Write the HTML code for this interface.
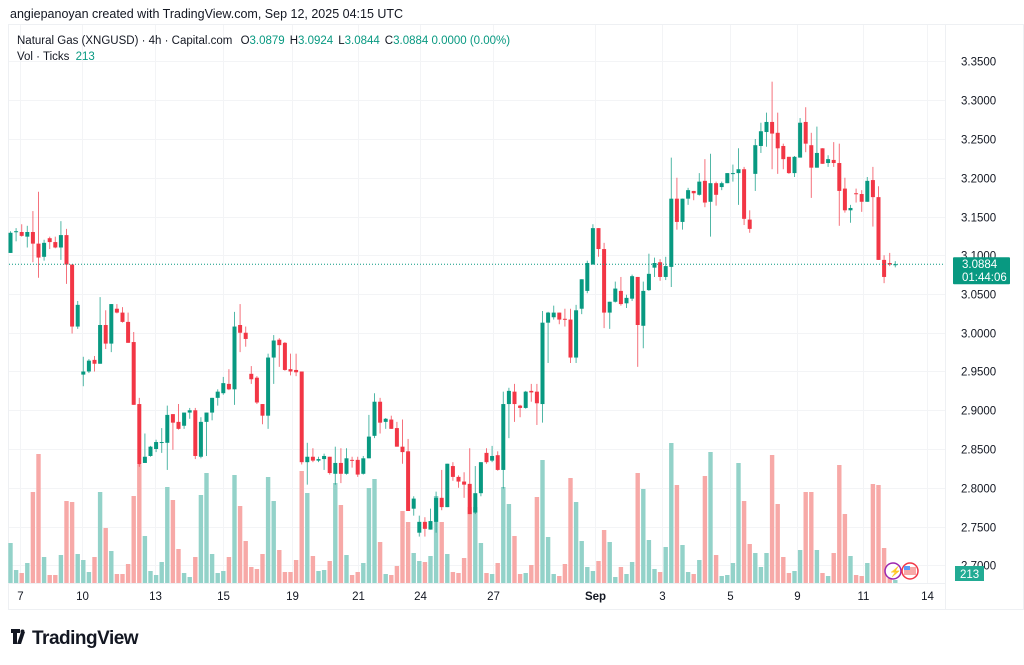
<!DOCTYPE html>
<html><head><meta charset="utf-8">
<style>
body{margin:0;background:#fff;font-family:"Liberation Sans",sans-serif;}
#wrap{position:relative;width:1024px;height:665px;overflow:hidden;background:#fff}
svg text{font-family:"Liberation Sans",sans-serif}
</style></head>
<body>
<div id="wrap">
<svg id="chart" width="1024" height="665" xmlns="http://www.w3.org/2000/svg">
<text x="10" y="18" font-size="12.5" fill="#131722">angiepanoyan created with TradingView.com, Sep 12, 2025 04:15 UTC</text>
<rect x="8.5" y="24.5" width="1015" height="585" fill="none" stroke="#eef0f3"/>
<line x1="945.5" y1="25" x2="945.5" y2="609" stroke="#eef0f3"/>
<line x1="9" y1="583.5" x2="945" y2="583.5" stroke="#eef0f3"/>
<g id="grid"></g>
<g id="vols"></g>
<g id="candles"></g>
<g id="axes"></g>
<text x="17" y="44" font-size="11.5" fill="#131722">Natural Gas (XNGUSD) · 4h · Capital.com <tspan dx="5">O</tspan><tspan fill="#089981">3.0879</tspan><tspan dx="5">H</tspan><tspan fill="#089981">3.0924</tspan><tspan dx="5">L</tspan><tspan fill="#089981">3.0844</tspan><tspan dx="5">C</tspan><tspan fill="#089981">3.0884 0.0000 (0.00%)</tspan></text>
<text x="17" y="60" font-size="11.5" fill="#131722">Vol · Ticks <tspan dx="3" fill="#089981">213</tspan></text>
<g>
<circle cx="893" cy="571" r="8" fill="#fff" stroke="#9c27b0" stroke-width="1.5"/>
<text x="889" y="575" font-size="10" fill="#9c27b0">⚡</text>
<circle cx="910" cy="571" r="8" fill="#fff" stroke="#f23645" stroke-width="1.5"/>
<rect x="904" y="567" width="12" height="8" fill="#f7a9a7"/>
<rect x="904" y="566" width="6" height="4" fill="#5b9cf6"/>
</g>
<g>
<path d="M11 629h9v4h-3v11h-4v-11h-2z M21 632h4l-4 12h-4z" fill="#131722"/>
<circle cx="22.5" cy="631.5" r="2" fill="#131722"/>
<text x="32" y="644" font-size="19" font-weight="bold" fill="#131722" letter-spacing="-0.5">TradingView</text>
</g>
</svg>
</div>
<script>
const opens=[3.103,3.130,3.130,3.124,3.130,3.115,3.098,3.122,3.117,3.110,3.126,3.088,3.008,2.946,2.950,2.965,2.960,3.010,2.986,3.031,3.026,3.014,2.988,2.908,2.832,2.841,2.850,2.858,2.858,2.895,2.885,2.880,2.897,2.900,2.840,2.885,2.897,2.916,2.922,2.934,2.927,3.010,3.000,2.947,2.942,2.908,2.893,2.968,2.991,2.987,2.953,2.952,2.950,2.833,2.840,2.835,2.837,2.840,2.818,2.832,2.818,2.836,2.836,2.818,2.838,2.867,2.911,2.885,2.888,2.877,2.853,2.847,2.773,2.742,2.756,2.746,2.756,2.787,2.775,2.828,2.814,2.808,2.805,2.768,2.793,2.845,2.835,2.842,2.823,2.908,2.924,2.906,2.903,2.925,2.924,2.908,3.013,3.020,3.026,3.018,3.017,2.968,3.031,3.054,3.088,3.135,3.108,3.026,3.040,3.054,3.038,3.044,3.072,3.009,3.055,3.084,3.091,3.072,3.085,3.173,3.143,3.173,3.183,3.178,3.196,3.169,3.193,3.188,3.193,3.205,3.206,3.211,3.146,3.205,3.241,3.259,3.272,3.258,3.241,3.227,3.206,3.226,3.272,3.242,3.213,3.238,3.219,3.223,3.219,3.186,3.158,3.180,3.179,3.169,3.197,3.175,3.094,3.090,3.0879];
const highs=[3.131,3.135,3.140,3.138,3.157,3.182,3.120,3.124,3.124,3.144,3.134,3.088,3.041,2.969,2.966,2.970,3.046,3.029,3.037,3.037,3.033,3.026,3.001,2.916,2.870,2.854,2.862,2.877,2.906,2.895,2.908,2.897,2.903,2.903,2.891,2.897,2.916,2.927,2.943,2.953,3.027,3.037,3.008,2.957,2.944,2.908,2.973,2.997,2.993,2.988,2.973,2.973,2.950,2.858,2.851,2.840,2.844,2.840,2.853,2.851,2.851,2.840,2.840,2.841,2.894,2.922,2.916,2.890,2.893,2.885,2.888,2.863,2.789,2.764,2.762,2.773,2.795,2.823,2.831,2.833,2.816,2.820,2.851,2.828,2.833,2.851,2.854,2.847,2.924,2.929,2.934,2.907,2.925,2.934,2.934,3.028,3.027,3.035,3.026,3.031,3.031,3.036,3.069,3.093,3.140,3.135,3.116,3.040,3.066,3.072,3.049,3.075,3.072,3.066,3.102,3.097,3.095,3.098,3.226,3.200,3.173,3.187,3.183,3.206,3.224,3.231,3.195,3.195,3.206,3.217,3.238,3.214,3.158,3.250,3.271,3.284,3.324,3.284,3.244,3.227,3.228,3.277,3.291,3.258,3.266,3.238,3.229,3.246,3.244,3.200,3.165,3.186,3.184,3.201,3.214,3.189,3.100,3.103,3.0924];
const lows=[3.103,3.118,3.124,3.110,3.091,3.071,3.093,3.108,3.109,3.094,3.063,2.999,3.005,2.931,2.948,2.950,2.960,2.979,2.975,3.025,3.013,2.987,2.907,2.827,2.832,2.840,2.846,2.845,2.823,2.849,2.875,2.876,2.889,2.837,2.838,2.841,2.887,2.906,2.920,2.926,2.907,2.975,2.982,2.934,2.908,2.882,2.876,2.934,2.956,2.951,2.945,2.944,2.830,2.804,2.833,2.833,2.823,2.817,2.804,2.806,2.817,2.826,2.814,2.817,2.838,2.864,2.870,2.876,2.876,2.853,2.831,2.770,2.764,2.737,2.737,2.746,2.742,2.771,2.775,2.809,2.800,2.787,2.766,2.766,2.789,2.831,2.833,2.822,2.799,2.864,2.885,2.891,2.902,2.911,2.881,2.884,2.961,3.017,3.011,3.008,2.961,2.961,3.024,3.051,3.088,3.098,3.006,3.005,3.039,3.035,3.032,3.041,2.956,2.980,3.054,3.072,3.067,3.068,3.059,3.133,3.133,3.165,3.171,3.177,3.162,3.124,3.164,3.184,3.193,3.195,3.165,3.139,3.129,3.183,3.232,3.240,3.211,3.205,3.211,3.205,3.201,3.226,3.233,3.174,3.213,3.218,3.214,3.214,3.138,3.155,3.142,3.168,3.156,3.169,3.137,3.094,3.064,3.086,3.0844];
const closes=[3.129,3.131,3.125,3.130,3.115,3.097,3.116,3.117,3.110,3.126,3.088,3.008,3.036,2.950,2.964,2.960,3.010,2.986,3.037,3.026,3.014,2.987,2.907,2.830,2.840,2.853,2.859,2.859,2.894,2.884,2.876,2.897,2.900,2.841,2.885,2.897,2.916,2.924,2.935,2.927,3.008,3.000,2.992,2.940,2.910,2.893,2.968,2.990,2.984,2.952,2.950,2.949,2.833,2.840,2.835,2.837,2.841,2.819,2.832,2.818,2.838,2.835,2.817,2.838,2.866,2.911,2.884,2.889,2.876,2.853,2.846,2.770,2.786,2.756,2.747,2.757,2.787,2.775,2.831,2.814,2.808,2.804,2.766,2.793,2.833,2.833,2.841,2.823,2.908,2.925,2.908,2.903,2.924,2.923,2.909,3.013,3.026,3.026,3.017,3.017,2.968,3.029,3.069,3.090,3.135,3.108,3.026,3.040,3.057,3.037,3.045,3.073,3.010,3.054,3.076,3.090,3.072,3.086,3.173,3.143,3.173,3.184,3.180,3.195,3.168,3.193,3.178,3.193,3.206,3.206,3.211,3.147,3.134,3.242,3.260,3.272,3.257,3.238,3.224,3.206,3.227,3.271,3.244,3.213,3.232,3.218,3.224,3.219,3.183,3.158,3.161,3.179,3.169,3.196,3.175,3.094,3.072,3.088,3.0884];
const volumes=[40,13,10,20,91,129,26,8,8,28,82,81,29,23,11,26,91,55,32,9,9,19,87,118,47,12,8,21,96,83,34,10,6,26,88,110,29,10,12,26,108,77,42,16,14,29,106,82,33,11,11,23,112,90,27,12,13,22,100,78,28,8,11,20,95,104,41,9,8,17,72,61,30,22,21,27,87,61,29,11,10,25,76,76,40,10,9,20,96,79,47,9,10,18,86,123,46,9,7,19,105,81,42,16,12,22,53,41,6,16,9,21,110,94,43,14,11,36,140,98,38,11,9,23,107,131,28,7,8,20,120,82,39,30,16,30,128,79,26,10,12,33,91,91,33,10,7,30,118,69,27,8,7,20,99,98,35,5,3];
const priceTicks=[3.35,3.30,3.25,3.20,3.15,3.10,3.05,3.00,2.95,2.90,2.85,2.80,2.75,2.70];
const dateLabels=["7","10","13","15","19","21","24","27","Sep","3","5","9","11","14"];
const dateIndex=[1.7,12.8,25.8,38,50.2,62,73.2,86.2,104.3,116.4,128.4,140.5,152.3,163.7];
const lastPrice=3.0884;

const NS="http://www.w3.org/2000/svg";
function yP(p){return 139+(3.25-p)*775;}
function xI(i){return 10.5+i*5.6;}
function yV(v){return 583-v;}
function mk(tag,attrs,parent){const e=document.createElementNS(NS,tag);for(const k in attrs)e.setAttribute(k,attrs[k]);parent.appendChild(e);return e;}
const grid=document.getElementById('grid'),axes=document.getElementById('axes'),vols=document.getElementById('vols'),cg=document.getElementById('candles');
priceTicks.forEach(p=>{
  const y=Math.round(yP(p))+0.5;
  const l=mk('line',{x1:9,x2:945,y1:y,y2:y,stroke:'#f3f4f6'},grid);
  
  
  const t=mk('text',{x:961,y:y+4,'font-size':11.5,fill:'#131722'},axes);
  t.textContent=p.toFixed(4);
  
  
});
dateLabels.forEach((d,k)=>{
  const x=Math.round(xI(dateIndex[k]))+0.5;
  const l=mk('line',{x1:x,x2:x,y1:25,y2:583,stroke:'#f3f4f6'},grid);
  
  
  const t=mk('text',{x:x,y:600,'font-size':11.5,fill:'#131722','text-anchor':'middle','font-weight':d==='Sep'?'bold':'normal'},axes);
  t.textContent=d;
  
  
});
volumes.forEach((v,i)=>{
  const up=closes[i]>=opens[i];
  const r=mk('rect',{x:xI(i)-2.2,y:yV(v),width:4.4,height:v,fill:up?'#93d2c9':'#f7a9a7'},vols);
  
  
});
opens.forEach((o,i)=>{
  const c=closes[i],up=c>=o,col=up?'#089981':'#f23645',x=xI(i);
  const g=mk('g',{},cg);
  
  
  mk('line',{x1:x,x2:x,y1:yP(highs[i]),y2:yP(lows[i]),stroke:col,'stroke-width':1,opacity:0.7},g);
  const t=Math.min(yP(o),yP(c)),h=Math.max(1,Math.abs(yP(o)-yP(c)));
  mk('rect',{x:x-2,y:t,width:4,height:h,fill:col},g);
});
const ly=yP(lastPrice);
const pl=mk('line',{x1:9,x2:945,y1:ly,y2:ly,stroke:'#089981','stroke-dasharray':'1,2','stroke-width':1},axes);


const lb=mk('rect',{x:953,y:ly-7,width:57,height:27,fill:'#089981',rx:1},axes);


const t1=mk('text',{x:962,y:ly+4,'font-size':11.5,fill:'#fff'},axes);t1.textContent=lastPrice.toFixed(4);


const t2=mk('text',{x:962,y:ly+17,'font-size':11.5,fill:'#fff'},axes);t2.textContent='01:44:06';


const vb=mk('rect',{x:955,y:566,width:29,height:15,fill:'#22ab94'},axes);


const vt=mk('text',{x:960,y:578,'font-size':11.5,fill:'#fff'},axes);vt.textContent=String(volumes[volumes.length-1]===3?213:volumes[volumes.length-1]);


</script>
</body></html>
